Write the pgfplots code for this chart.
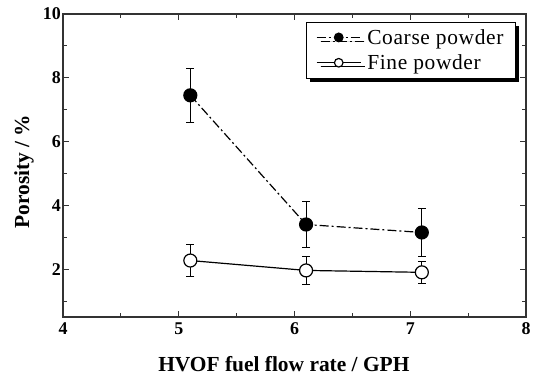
\documentclass[border=0pt]{standalone}
\usepackage{fontspec}
\setmainfont{Liberation Serif}
\newfontfamily\legfont[LetterSpace=3]{Liberation Serif}
\usepackage{pgfplots}
\pgfplotsset{compat=1.18}
\usetikzlibrary{shadows}
\begin{document}
\begin{tikzpicture}
\begin{axis}[
  name=ax,
  scale only axis,
  width=463bp, height=303bp,
  xmin=4, xmax=8, ymin=0.5, ymax=10,
  xtick={4,5,6,7,8}, ytick={2,4,6,8,10},
  minor xtick={4.5,5.5,6.5,7.5},
  minor ytick={1,3,5,7,9},
  tick align=inside,
  major tick length=6bp, minor tick length=4bp,
  axis line style={line width=1.2pt, black!80},
  every tick/.style={line width=0.9pt, black!80},
  /pgf/number format/assume math mode=true,
  xticklabel style={font=\fontsize{18}{20}\selectfont\bfseries, anchor=center, yshift=-12bp, inner sep=0pt},
  yticklabel style={font=\fontsize{18}{20}\selectfont\bfseries, anchor=east, xshift=-2bp, inner sep=0pt},
  xlabel={\textbf{HVOF fuel flow rate / GPH}},
  ylabel={\textbf{Porosity / \%}},
  label style={font=\fontsize{21.5}{23}\selectfont},
  xlabel style={at={(axis description cs:0.477,0)}, anchor=base, yshift=-55bp},
  ylabel style={at={(axis description cs:-0.084,0.48)}, anchor=center},
  legend style={at={(axis description cs:0.978,0.974)}, anchor=north east, draw=black, line width=0.8pt,
    font=\legfont\fontsize{21.5}{23}\selectfont, inner ysep=5pt, inner xsep=10pt,
    row sep=5pt,
    drop shadow={shadow xshift=4bp, shadow yshift=-4bp, fill=black, opacity=1}},
  legend cell align=left,
  legend image code/.code={
    \draw[#1, mark=none] (0bp,0bp) -- (44bp,0bp);
    \draw[#1, mark size=4.3bp] plot coordinates {(22bp,0bp)};
  },
]
\addplot[black, line width=1.2pt, dash pattern=on 9bp off 3bp on 2bp off 3bp,
  mark=*, mark size=6.5bp, mark options={solid, fill=black},
  error bars/.cd, y dir=both, y explicit,
  error bar style={solid, line width=0.9pt},
  error mark options={rotate=90, mark size=4bp, line width=0.9pt}]
coordinates {
(5.1,7.45) +- (0,0.85)
(6.1,3.40) +- (0,0.72)
(7.1,3.15) +- (0,0.76)
};
\addlegendentry{\hspace{4bp}Coarse powder}
\addplot[black, line width=1.2pt,
  mark=*, mark size=6.5bp, mark options={solid, fill=white},
  error bars/.cd, y dir=both, y explicit,
  error bar style={solid, line width=0.9pt},
  error mark options={rotate=90, mark size=4bp, line width=0.9pt}]
coordinates {
(5.1,2.27) +- (0,0.51)
(6.1,1.96) +- (0,0.44)
(7.1,1.90) +- (0,0.34)
};
\addlegendentry{\hspace{4bp}Fine powder}
\end{axis}
\pgfresetboundingbox
\path (ax.south west) ++(-63bp,-64bp) coordinate (bl);
\path (ax.north east) ++(10bp,14bp) coordinate (tr);
\path[use as bounding box] (bl) rectangle (tr);
\end{tikzpicture}
\end{document}
